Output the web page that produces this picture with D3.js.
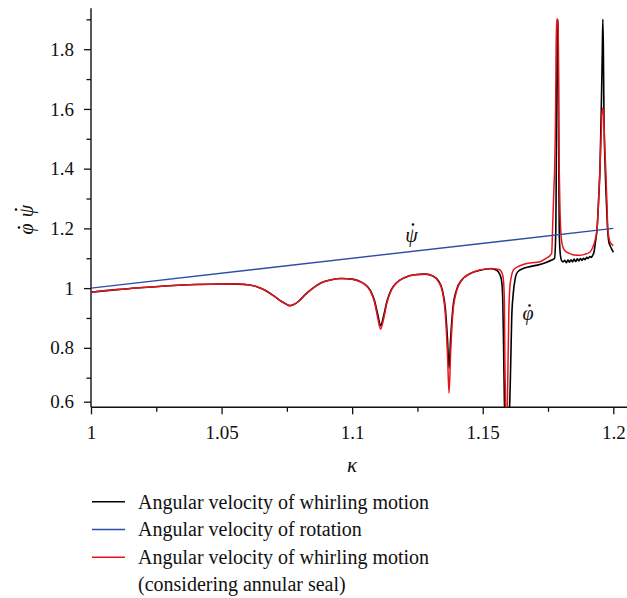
<!DOCTYPE html>
<html><head><meta charset="utf-8">
<script src="https://cdn.jsdelivr.net/npm/d3@7"></script>
<style>body{margin:0;background:#fff} text{font-family:"Liberation Serif","Times New Roman",serif;fill:#111}</style>
</head><body><svg id="c" width="627" height="598"></svg>
<script>
// ---- data ----
const xTicks = [1, 1.05, 1.1, 1.15, 1.2];
const xTickLabels = ["1", "1.05", "1.1", "1.15", "1.2"];
const xMinorTicks = [1.025, 1.075, 1.125, 1.175];
const yTicks = [0.6, 0.8, 1, 1.2, 1.4, 1.6, 1.8];
const yTickLabels = ["0.6", "0.8", "1", "1.2", "1.4", "1.6", "1.8"];
const yMinorTicks = [0.7, 0.9, 1.1, 1.3, 1.5, 1.7, 1.9];

// angular velocity of rotation (blue)
const kappaRot = [1.0, 1.2];
const rotation = [1.0, 1.2];

// angular velocity of whirling motion (black)
const kappaB = [1.000,1.010,1.020,1.030,1.040,1.050,1.056,1.060,1.064,1.067,1.070,1.073,1.075,1.0762,1.0775,1.0795,1.082,1.085,1.088,1.092,1.096,1.100,1.103,1.105,
  1.107,1.1085,1.1098,1.1109,1.1120,1.1133,1.115,1.117,1.120,1.124,1.128,1.131,1.133,1.1345,1.1357,1.1365,1.1371,1.1377,1.1386,1.140,1.142,1.145,1.149,1.153,
  1.1553,1.1566,1.1573,1.1577,1.1580,1.1583,1.1590,1.1600,1.1606,1.1611,1.1617,1.1624,1.1630,1.1642,1.1655,1.168,1.171,1.174,1.1764,1.1775,
  1.1780,1.1782,1.17852,1.17875,1.17891,1.17906,1.17929,1.17955,1.17983,1.1802,1.1808,
  1.1814,1.1820,1.1826,1.1832,1.1838,1.1844,1.1850,1.1856,1.1862,1.1868,1.1874,1.1880,1.1886,1.1892,1.1898,1.1904,1.1910,1.1916,1.1921,
  1.1926,1.1931,1.1938,1.1944,1.1949,1.1954,1.1958,1.1960,1.1962,1.1964,1.1969,1.1974,1.1978,1.1984,1.1987,1.1993,1.2000];
const whirlB = [0.986,0.995,1.002,1.008,1.012,1.014,1.0135,1.011,1.003,0.991,0.974,0.955,0.945,0.941,0.944,0.956,0.978,1.000,1.017,1.028,1.032,1.030,1.022,1.012,
  0.992,0.960,0.912,0.874,0.905,0.955,0.995,1.018,1.035,1.045,1.047,1.040,1.025,0.995,0.930,0.830,0.732,0.830,0.935,0.995,1.028,1.048,1.060,1.065,
  1.060,1.045,1.020,0.950,0.800,0.600,0.450,0.500,0.700,0.900,0.983,1.030,1.049,1.060,1.066,1.072,1.077,1.085,1.094,1.100,
  1.200,1.450,1.850,1.900,1.850,1.550,1.200,1.130,1.105,1.092,1.088,
  1.093,1.085,1.094,1.087,1.095,1.088,1.097,1.089,1.098,1.091,1.099,1.093,1.100,1.095,1.103,1.099,1.106,1.103,1.110,
  1.120,1.150,1.200,1.300,1.400,1.600,1.800,1.900,1.800,1.600,1.400,1.280,1.200,1.150,1.144,1.132,1.120];

// angular velocity of whirling motion, considering annular seal (red)
const kappaR = [1.000,1.010,1.020,1.030,1.040,1.050,1.056,1.060,1.064,1.067,1.070,1.073,1.075,1.0762,1.0775,1.0795,1.082,1.085,1.088,1.092,1.096,1.100,1.103,1.105,
  1.107,1.1085,1.1098,1.1109,1.1120,1.1133,1.115,1.117,1.120,1.124,1.128,1.131,1.133,1.1345,1.1357,1.1365,1.1371,1.1377,1.1386,1.140,1.142,1.145,1.149,1.153,
  1.1563,1.1575,1.1580,1.1583,1.1585,1.1588,1.1592,1.1596,1.1600,1.1604,1.1610,1.1617,1.1635,1.1655,1.168,1.1719,1.174,1.1764,
  1.17676,1.1772,1.17753,1.17791,1.1781,1.1783,1.1787,1.17891,1.17906,1.17929,1.17955,1.17983,1.1802,1.1808,1.1815,1.183,1.185,1.187,1.189,1.191,
  1.1923,1.1930,1.1938,1.1944,1.1949,1.1953,1.1957,1.1960,1.1963,1.1967,1.1971,1.1975,1.1979,1.1983,1.1987,1.1993,1.2000];
const whirlR = [0.986,0.995,1.002,1.008,1.012,1.014,1.0135,1.011,1.003,0.991,0.974,0.955,0.945,0.942,0.945,0.956,0.978,1.000,1.017,1.028,1.032,1.030,1.022,1.012,
  0.990,0.955,0.900,0.863,0.895,0.950,0.993,1.017,1.035,1.045,1.047,1.040,1.022,0.990,0.910,0.780,0.636,0.780,0.920,0.990,1.027,1.048,1.061,1.066,
  1.062,1.048,1.020,0.950,0.750,0.550,0.480,0.700,0.920,1.004,1.040,1.060,1.072,1.079,1.084,1.088,1.098,1.116,
  1.200,1.320,1.400,1.600,1.800,1.900,1.900,1.850,1.600,1.400,1.280,1.200,1.160,1.135,1.125,1.117,1.111,1.110,1.113,1.120,
  1.140,1.160,1.200,1.300,1.400,1.500,1.590,1.602,1.580,1.480,1.400,1.300,1.200,1.170,1.155,1.148,1.142];

const legendItems = ["Angular velocity of whirling motion", "Angular velocity of rotation", "Angular velocity of whirling motion"];
const legendExtra = "(considering annular seal)";
const colors = ["#000000", "#2d4ea6", "#e8141c"];

// ---- chart ----
const svg = d3.select("#c");
const x = d3.scaleLinear().domain([1, 1.2]).range([91, 613.3]);
const y = d3.scaleLinear().domain([0.576, 0.6, 0.7, 1.937]).range([407.3, 401.7, 377.7, 8.3]);
const xEnd = 627, yTop = 8.3, yBot = 407.3, xL = x(1);

svg.append("defs").append("clipPath").attr("id", "clip")
  .append("rect").attr("x", xL).attr("y", yTop - 2).attr("width", xEnd - xL).attr("height", yBot - yTop + 2);

// axes
const xAxis = d3.axisBottom(x).tickValues(xTicks).tickFormat((d, i) => xTickLabels[i]).tickSize(7).tickPadding(11);
const gx = svg.append("g").attr("transform", `translate(0,${yBot})`).call(xAxis);
const xMinor = d3.axisBottom(x).tickValues(xMinorTicks).tickFormat("").tickSize(4.5);
const gxm = svg.append("g").attr("transform", `translate(0,${yBot})`).call(xMinor);
const yAxis = d3.axisLeft(y).tickValues(yTicks).tickFormat((d, i) => yTickLabels[i]).tickSize(7).tickPadding(10);
const gy = svg.append("g").attr("transform", `translate(${xL},0)`).call(yAxis);
const yMinor = d3.axisLeft(y).tickValues(yMinorTicks).tickFormat("").tickSize(4.5);
const gym = svg.append("g").attr("transform", `translate(${xL},0)`).call(yMinor);
[gx, gxm, gy, gym].forEach(g => {
  g.attr("font-family", null);
  g.select(".domain").remove();
  g.selectAll("line").attr("stroke", "#111").attr("stroke-width", 1.3);
  g.selectAll("text").attr("font-size", 19).style("font-family", "'Liberation Serif', serif").attr("fill", "#111");
});
svg.append("line").attr("x1", xL).attr("x2", xEnd).attr("y1", yBot).attr("y2", yBot).attr("stroke", "#111").attr("stroke-width", 1.4);
svg.append("line").attr("x1", xL).attr("x2", xL).attr("y1", yTop).attr("y2", yBot).attr("stroke", "#111").attr("stroke-width", 1.4);

// lines
const plot = svg.append("g").attr("clip-path", "url(#clip)");
const mk = (ks, vs) => ks.map((k, i) => [k, vs[i]]);
const line = d3.line().x(d => x(d[0])).y(d => y(d[1])).curve(d3.curveMonotoneX);
plot.append("path").attr("d", line(mk(kappaB, whirlB))).attr("fill", "none").attr("stroke", colors[0]).attr("stroke-width", 1.6);
plot.append("path").attr("d", line(mk(kappaR, whirlR))).attr("fill", "none").attr("stroke", colors[2]).attr("stroke-width", 1.5);
plot.append("path").attr("d", d3.line().x(d => x(d[0])).y(d => y(d[1]))(mk(kappaRot, rotation)))
  .attr("fill", "none").attr("stroke", colors[1]).attr("stroke-width", 1.4);

// dotted symbol helper: base glyph + overdot drawn as a small circle
function dotted(g, cx, base, ch, dotLift) {
  g.append("text").attr("x", cx).attr("y", base).attr("text-anchor", "middle").attr("font-size", 20).attr("font-style", "italic").text(ch);
  g.append("circle").attr("cx", cx + 1.5).attr("cy", base - dotLift).attr("r", 1.3).attr("fill", "#111");
}
dotted(svg, 411.5, 241.5, "\u03C8", 17);
dotted(svg, 528, 319.5, "\u03C6", 14);

// axis titles
const yl = svg.append("g").attr("transform", "translate(33,220) rotate(-90)");
dotted(yl, -9, 0, "\u03C6", 14);
dotted(yl, 9, 0, "\u03C8", 17);
svg.append("text").attr("x", 352).attr("y", 472).attr("text-anchor", "middle").attr("font-size", 21).attr("font-style", "italic").text("\u03BA");

// legend
const legY = [501.7, 529.5, 557.3];
const leg = svg.append("g");
legendItems.forEach((t, i) => {
  const c = i === 0 ? colors[0] : i === 1 ? colors[1] : colors[2];
  leg.append("line").attr("x1", 92).attr("x2", 125).attr("y1", legY[i]).attr("y2", legY[i]).attr("stroke", c).attr("stroke-width", 1.4);
  leg.append("text").attr("x", 138).attr("y", legY[i] + 6.8).attr("font-size", 20).text(t);
});
leg.append("text").attr("x", 138).attr("y", 590.7).attr("font-size", 20).text(legendExtra);
</script></body></html>
